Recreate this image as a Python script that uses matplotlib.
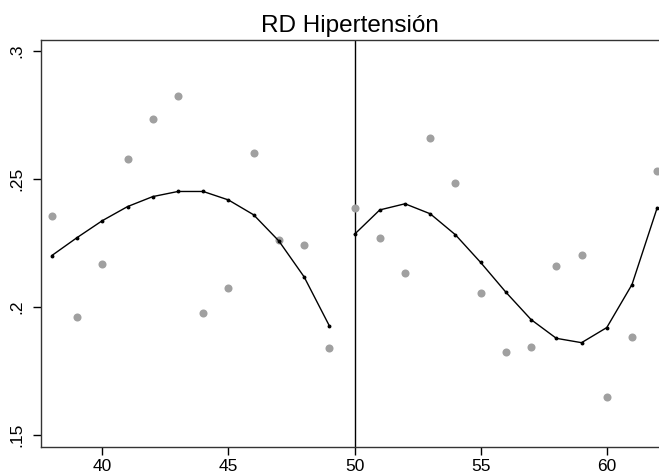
import matplotlib
matplotlib.use("Agg")
import matplotlib.pyplot as plt

plt.rcParams['font.family'] = ['Liberation Sans', 'DejaVu Sans']

x_left = [38, 39, 40, 41, 42, 43, 44, 45, 46, 47, 48, 49]
y_left = [0.2356, 0.1961, 0.2168, 0.2578, 0.2733, 0.2823, 0.1977, 0.2075, 0.2603, 0.2262, 0.2242, 0.1839]
fit_left = [0.2201, 0.2271, 0.2337, 0.2392, 0.2431, 0.2451, 0.2451, 0.2418, 0.2360, 0.2258, 0.2118, 0.1927]

x_right = [50, 51, 52, 53, 54, 55, 56, 57, 58, 59, 60, 61, 62]
y_right = [0.2388, 0.2270, 0.2131, 0.2659, 0.2484, 0.2055, 0.1825, 0.1844, 0.2162, 0.2205, 0.1648, 0.1884, 0.2531]
fit_right = [0.2284, 0.2379, 0.2403, 0.2364, 0.2282, 0.2174, 0.2058, 0.1951, 0.1878, 0.1861, 0.1920, 0.2088, 0.2388]

xticks = [40, 45, 50, 55, 60]
yticks = [0.15, 0.2, 0.25, 0.3]
ytick_labels = ['.15', '.2', '.25', '.3']
cutoff = 50
title = "RD Hipertensión"

fig = plt.figure(figsize=(6.59, 4.73), dpi=100)
ax = fig.add_axes([0.0622, 0.055, 0.9378, 0.8604])

dot_color = '#a0a0a0'
ax.plot(x_left, y_left, 'o', color=dot_color, markersize=5.8, markeredgewidth=0, zorder=2)
ax.plot(x_right, y_right, 'o', color=dot_color, markersize=5.8, markeredgewidth=0, zorder=2)
ax.plot(x_left, fit_left, '-', color='black', linewidth=1.0, marker='o', markersize=1.8, zorder=3)
ax.plot(x_right, fit_right, '-', color='black', linewidth=1.0, marker='o', markersize=1.8, zorder=3)
ax.axvline(cutoff, color='black', linewidth=1.0, zorder=1)

ax.set_xlim(37.57, 62.07)
ax.set_ylim(0.1454, 0.3042)
ax.set_xticks(xticks)
ax.set_yticks(yticks)
ax.set_yticklabels(ytick_labels, rotation=90, va='center')
ax.tick_params(axis='both', direction='out', length=6, width=1, labelsize=12.5, color='black')
ax.tick_params(axis='x', pad=2.5)
ax.tick_params(axis='y', pad=6)
for s in ['left', 'bottom', 'top']:
    ax.spines[s].set_linewidth(1.0)
    ax.spines[s].set_color('#333333')
ax.spines['right'].set_visible(False)

ax.set_title(title, fontsize=17.5, pad=6)

fig.savefig('out.png', dpi=100)
